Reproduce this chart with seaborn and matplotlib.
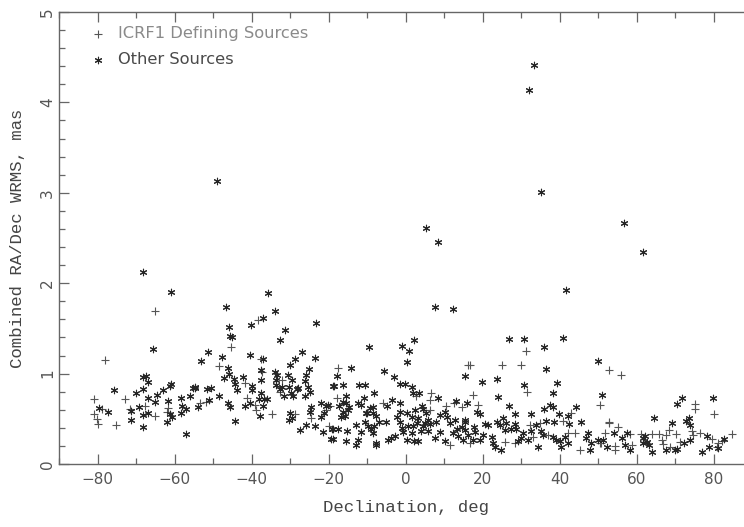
import numpy as np
import pandas as pd
import seaborn as sns
import matplotlib
matplotlib.use('Agg')
import matplotlib.pyplot as plt
from matplotlib.ticker import MultipleLocator

sns.set_style('ticks')
plt.rcParams['font.family'] = ['DejaVu Sans']

# ICRF1 defining sources (plus markers): declination, deg / WRMS, mas
icrf_dec = [-65.0, -78.0, -81.0, -72.8, -78.9, -81.0, -80.2, -79.9, -75.2, -71.5, -67.6, -65.0, -61.8, -61.9,
            -38.4, -45.3, -48.6, -37.5, -37.3, -32.0, -32.6, -53.5, -51.8, -41.8, -41.1, -38.8, -39.2, -34.7,
            -28.8, -24.5, -20.6, -20.0, -17.6, 2.6, -17.8, -5.9, 6.5, 6.2, 6.2, 11.4, 14.5, 12.5, 10.4, 16.2,
            -19.7, 31.3, 16.6, 25.0, 29.8, 31.5, 17.5, 18.7, 42.9, 50.4, 40.9, 32.2, 34.8, 33.1, 36.9, 42.2,
            43.9, 45.2, 50.8, 16.6, 25.7, 28.3, 52.8, 55.8, 75.1, 75.1, 80.0, 74.2, 68.4, 52.8, 55.2, 58.2,
            51.7, 50.4, 54.3, 54.3, 58.6, 61.0, 63.8, 65.8, 67.5, 66.4, 66.7, 68.6, 70.1, 71.2, 74.6, 76.4,
            79.4, 81.1, 80.8, 82.0, 84.8, 52.7]
icrf_wrms = [1.69, 1.15, 0.72, 0.72, 0.61, 0.55, 0.50, 0.44, 0.43, 0.61, 0.64, 0.53, 0.62, 0.58,
             1.59, 1.29, 1.08, 1.16, 1.02, 0.93, 0.80, 0.67, 0.69, 0.90, 0.73, 0.60, 0.65, 0.55,
             0.55, 0.51, 0.60, 0.42, 1.06, 0.75, 0.73, 0.68, 0.79, 0.71, 0.60, 0.21, 0.63, 0.68, 0.64, 1.10,
             0.64, 1.25, 1.10, 1.10, 1.10, 0.80, 0.76, 0.65, 0.56, 0.65, 0.48, 0.43, 0.45, 0.30, 0.32, 0.34,
             0.34, 0.16, 0.23, 0.23, 0.24, 0.23, 1.04, 0.99, 0.66, 0.61, 0.55, 0.36, 0.38, 0.45, 0.41, 0.33,
             0.34, 0.23, 0.20, 0.16, 0.21, 0.33, 0.33, 0.33, 0.32, 0.27, 0.22, 0.19, 0.33, 0.24, 0.32, 0.34,
             0.28, 0.23, 0.19, 0.25, 0.33, 0.47]

# other sources (asterisk markers)
other_dec = [-49.0, 32.0, 33.3, 35.1, 5.2, 8.3, 56.7, 61.5,
             -68.3, -60.9, -65.7, -75.7, -79.6, -77.4, -71.3, -71.3, -70.0, -68.3, -67.4, -66.9, -68.2,
             -69.3, -68.3, -68.1, -66.8, -66.8, -65.0, -64.6, -62.9, -61.3, -61.0, -61.6, -61.1, -60.7,
             -62.0, -57.0, -58.3, -58.0, -58.4, -57.1, -56.1, -55.2, -54.7,
             -35.8, -46.6, -33.9, -37.1, -40.1, -46.0, -45.7, -45.0, -31.4, -32.7, -23.2, -51.2, -53.1,
             -47.7, -46.1, -45.8, -47.2, -40.3, -37.0, -26.9, -28.8, -30.1, -23.6, -25.1, -25.8, -37.7,
             -37.6, -34.0, -33.3, -30.6, -33.8, -29.6, -33.6, -32.7, -32.1, -31.6, -30.4, -29.7, -29.2,
             -28.3, -27.9, -26.2, -25.3, -24.9, -26.2, -54.8, -51.6, -50.5, -48.6, -54.0, -51.1, -46.1,
             -45.7, -44.2, -44.6, -43.7, -44.2, -42.2, -39.9, -40.0, -40.5, -41.8, -38.2, -37.5, -36.7,
             -37.1, -37.9, -35.9, -30.1, -30.4, -29.6, -27.4, -25.8, -24.5, -24.9, -23.5, -21.6, -22.1,
             -21.1, -21.9, -20.8, -20.2, -19.1, -19.3, -18.8,
             7.5, 12.3, -9.5, -0.9, 2.2, 0.9, 0.2, -14.1, -17.8, -5.7, -3.0, -18.7, -16.4, -12.1, -10.5,
             -8.2, -1.4, -0.2, 1.5, 1.9, 3.5, -15.6, -16.4, -15.0, -15.8, -16.7, -12.3, -11.6, -10.8, -9.3,
             -10.2, -8.6, -7.6, -4.8, -3.5, -1.6, -1.6, 0.3, 1.5, 2.3, 4.2, 5.3, 8.4, 4.4, 5.7, 6.2, 2.8,
             4.4, 4.0, 1.9, 0.6, 1.7, 2.2, 3.2, 0.3, -1.5, -1.0, -0.8, -2.4, -5.0, -2.9, -4.7, -3.8, -7.6,
             -7.7, -12.8, -11.5, -12.5, -13.0, -15.6, -19.0, -18.9, -17.6, -15.2, -10.5, -9.9, -9.1, -8.2,
             -6.9, -8.6, -10.0, -8.4, -15.4, -14.7, -17.3, -16.3, 7.9, 4.9, 5.7, 7.5, 8.8, 10.1, 10.6,
             11.4, 12.8, 13.2, 12.3, 13.6, 14.9, 14.5, 15.3, 13.0, 15.3, 10.1, 8.8, 3.2,
             41.5, 26.8, 30.7, 35.8, 40.7, 36.4, 49.9, 19.7, 23.6, 30.6, 24.0, 38.1, 39.3, 16.0, 26.8,
             28.3, 32.6, 35.8, 37.4, 38.1, 44.1, 39.8, 51.0, 42.2, 45.6, 42.4, 38.5, 36.5, 19.2, 18.6,
             15.3, 17.7, 20.5, 21.4, 23.6, 25.3, 24.4, 26.1, 28.3, 27.4, 28.7, 25.7, 33.9, 35.2, 32.6,
             30.5, 35.7, 38.3, 38.9, 40.0, 41.3, 42.2, 40.4, 46.9, 47.4, 47.8, 48.2, 49.8, 16.2, 17.5,
             19.2, 20.1, 22.3, 22.7, 23.1, 24.7, 29.2, 30.0, 31.8, 34.2, 15.3, 17.9,
             71.8, 70.3, 79.8, 64.5, 69.2, 73.6, 72.7, 73.9, 54.0, 57.3, 56.0, 51.1, 52.3, 56.9, 58.2,
             61.5, 62.1, 62.5, 61.7, 63.2, 63.8, 67.5, 70.5, 69.9, 72.2, 73.8, 78.1, 76.8, 78.8, 81.1,
             82.6]
other_wrms = [3.13, 4.14, 4.41, 3.01, 2.61, 2.46, 2.67, 2.34,
              2.12, 1.90, 1.27, 0.82, 0.62, 0.57, 0.59, 0.49, 0.79, 0.96, 0.97, 0.91, 0.83,
              0.63, 0.54, 0.41, 0.73, 0.56, 0.69, 0.76, 0.82, 0.86, 0.88, 0.70, 0.55, 0.52,
              0.46, 0.33, 0.73, 0.64, 0.56, 0.61, 0.75, 0.84, 0.85,
              1.89, 1.74, 1.69, 1.62, 1.54, 1.52, 1.42, 1.40, 1.48, 1.37, 1.56, 1.24, 1.14,
              1.18, 1.06, 1.00, 0.95, 1.21, 1.16, 1.24, 1.16, 1.10, 1.17, 1.05, 0.99, 1.04,
              0.93, 1.02, 0.98, 0.99, 0.93, 0.93, 0.87, 0.83, 0.85, 0.75, 0.85, 0.78, 0.75,
              0.83, 0.84, 0.92, 0.85, 0.80, 0.75, 0.84, 0.83, 0.84, 0.75, 0.63, 0.71, 0.67,
              0.63, 0.48, 0.94, 0.82, 0.89, 0.96, 0.86, 0.82, 0.67, 0.64, 0.72, 0.78, 0.72,
              0.64, 0.53, 0.72, 0.56, 0.49, 0.51, 0.38, 0.43, 0.63, 0.58, 0.42, 0.35, 0.52,
              0.56, 0.68, 0.64, 0.65, 0.39, 0.28, 0.86,
              1.74, 1.72, 1.29, 1.31, 1.37, 1.25, 1.13, 1.06, 0.97, 1.03, 0.96, 0.86, 0.87, 0.87, 0.87,
              0.79, 0.89, 0.89, 0.85, 0.79, 0.79, 0.75, 0.69, 0.60, 0.53, 0.52, 0.68, 0.65, 0.73, 0.62,
              0.56, 0.56, 0.53, 0.64, 0.71, 0.67, 0.58, 0.56, 0.52, 0.60, 0.64, 0.56, 0.73, 0.61, 0.49, 0.44, 0.45,
              0.42, 0.37, 0.42, 0.42, 0.34, 0.25, 0.25, 0.27, 0.47, 0.40, 0.35, 0.52, 0.47, 0.31, 0.27, 0.29, 0.21,
              0.23, 0.43, 0.35, 0.27, 0.21, 0.25, 0.28, 0.39, 0.39, 0.36, 0.47, 0.42, 0.39, 0.42,
              0.46, 0.34, 0.56, 0.63, 0.68, 0.63, 0.64, 0.58, 0.47, 0.45, 0.36, 0.29, 0.35, 0.25, 0.52,
              0.45, 0.49, 0.39, 0.34, 0.31, 0.27, 0.41, 0.49, 0.70, 0.97, 0.58, 0.54, 0.51,
              1.93, 1.38, 1.38, 1.29, 1.39, 1.05, 1.14, 0.91, 0.94, 0.87, 0.74, 0.79, 0.90, 0.67, 0.64,
              0.55, 0.55, 0.61, 0.65, 0.63, 0.63, 0.55, 0.76, 0.53, 0.46, 0.44, 0.46, 0.48, 0.55, 0.58,
              0.47, 0.41, 0.44, 0.43, 0.47, 0.51, 0.43, 0.45, 0.44, 0.39, 0.39, 0.38, 0.43, 0.37, 0.36,
              0.34, 0.32, 0.30, 0.27, 0.25, 0.30, 0.23, 0.19, 0.29, 0.34, 0.16, 0.23, 0.27, 0.32, 0.27,
              0.27, 0.32, 0.30, 0.23, 0.19, 0.16, 0.25, 0.29, 0.27, 0.19, 0.38, 0.35,
              0.73, 0.66, 0.73, 0.51, 0.45, 0.51, 0.48, 0.43, 0.34, 0.34, 0.29, 0.27, 0.19, 0.21, 0.15,
              0.29, 0.31, 0.24, 0.23, 0.21, 0.13, 0.16, 0.17, 0.16, 0.23, 0.27, 0.31, 0.13, 0.19, 0.18,
              0.28]

legend_labels = ['ICRF1 Defining Sources', 'Other Sources']

icrf = pd.DataFrame({'dec': icrf_dec, 'wrms': icrf_wrms})
other = pd.DataFrame({'dec': other_dec, 'wrms': other_wrms})

fig = plt.figure(figsize=(7.44, 5.27), dpi=100)
ax = fig.add_axes([59 / 744, 63 / 527, 693.5 / 744, 452 / 527])

asterisk = (6, 2, 0)
sns.scatterplot(data=icrf, x='dec', y='wrms', marker='+', s=38, color='#555555',
                linewidth=0.8, ax=ax, label=legend_labels[0])
sns.scatterplot(data=other, x='dec', y='wrms', marker=asterisk, s=22, color='#262626',
                linewidth=0.8, ax=ax, label=legend_labels[1])

ax.set_xlim(-90, 90)
ax.set_ylim(0, 5)
ax.xaxis.set_major_locator(MultipleLocator(20))
ax.xaxis.set_minor_locator(MultipleLocator(10))
ax.yaxis.set_major_locator(MultipleLocator(1))
ax.yaxis.set_minor_locator(MultipleLocator(0.2))

grey = '#666666'
for side in ['left', 'bottom', 'top']:
    ax.spines[side].set_color(grey)
    ax.spines[side].set_linewidth(1.0)
ax.spines['right'].set_visible(False)
ax.tick_params(which='both', direction='in', top=True, right=False, color=grey,
               labelcolor='#555555', labelsize=11)
ax.tick_params(which='major', length=7, width=0.9)
ax.tick_params(which='minor', length=4, width=0.9)
ax.tick_params(axis='x', pad=6)
ax.tick_params(axis='y', pad=3)
for lab in ax.get_yticklabels():
    lab.set_rotation(90)
    lab.set_va('center')

ax.set_xlabel('Declination, deg', family='Liberation Mono', fontsize=12.5, color='#444444',
              labelpad=9)
ax.set_ylabel('Combined RA/Dec WRMS, mas', family='Liberation Mono', fontsize=12.5,
              color='#444444', labelpad=11)

leg = ax.legend(loc='upper left', bbox_to_anchor=(0.047, 0.968), frameon=False,
                fontsize=11.7, handlelength=0.8, handletextpad=0.85, labelspacing=0.65,
                borderpad=0, borderaxespad=0, labelcolor=['#8a8a8a', '#4a4a4a'])

fig.savefig('out.png', dpi=100)
